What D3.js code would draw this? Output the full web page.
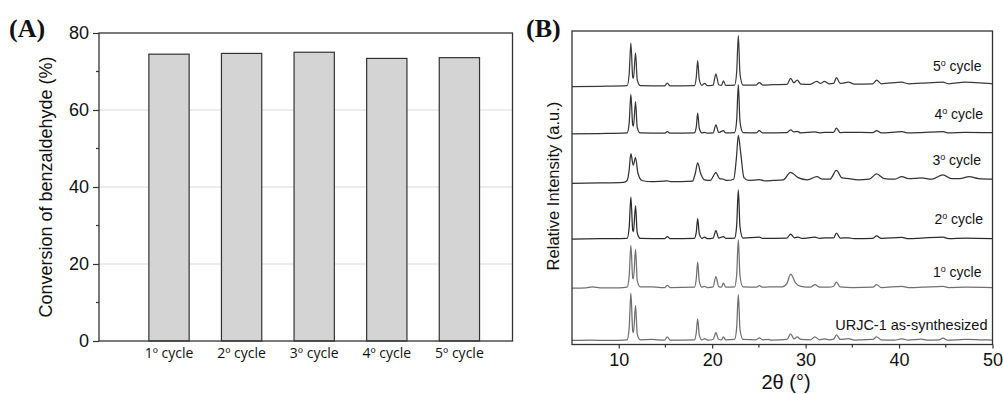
<!DOCTYPE html>
<html>
<head>
<meta charset="utf-8">
<script src="https://cdn.jsdelivr.net/npm/d3@7"></script>
<style>
  body { margin: 0; background: #fff; }
  svg { display: block; }
  text { font-family: "Liberation Sans", Arial, sans-serif; fill: #111; }
</style>
</head>
<body>
<svg id="chart" width="1003" height="394"></svg>
<script>
// panel A: conversion per cycle
var cycles = ["1º cycle", "2º cycle", "3º cycle", "4º cycle", "5º cycle"];
var conversion = [74.5, 74.7, 75.0, 73.4, 73.6];
var convTicks = [0, 20, 40, 60, 80];

// panel B: XRD patterns, [2theta, intensity a.u.]
var patternNames = ["URJC-1 as-synthesized", "1", "2", "3", "4", "5"];
var patternOffsets = [13, 180, 337, 518, 673, 824];
var thetaTicks = [10, 20, 30, 40, 50];

var asSynth = [[5,0],[7,1],[9,0],[10.9,2],[11.12,40],[11.3,151],[11.5,30],[11.58,25],[11.8,112],[11.98,20],[12.3,2],[13.5,3],[14.9,1],[15.2,11],[15.5,1],[18.1,2],[18.3,25],[18.45,69],[18.62,18],[18.9,2],[19.2,6],[19.5,1],[20.1,3],[20.4,25],[20.7,3],[21.0,2],[21.2,11],[21.45,2],[22.4,3],[22.62,40],[22.8,146],[22.98,35],[23.3,3],[24.7,2],[25.05,8],[25.4,2],[26,3],[26.4,1],[28.0,3],[28.4,21],[28.75,5],[29.1,11],[29.5,3],[30.5,2],[31,11],[31.5,2],[32,5],[32.5,2],[33.0,4],[33.3,18],[33.7,3],[34.6,6],[35.2,1],[36,2],[37.2,3],[37.6,11],[38.1,2],[39.5,1],[40.3,5],[41,1],[42.4,4],[43,1],[44.3,2],[44.7,7],[45.2,1],[47.1,3],[48.7,2],[50,1]];
var cycle1 = [[5,0],[6.5,1],[7.2,4],[8,1],[10,1],[10.9,3],[11.12,40],[11.3,137],[11.5,32],[11.58,30],[11.8,124],[11.98,25],[12.3,4],[13.5,4],[14.5,2],[14.95,2],[15.2,9],[15.5,2],[18.1,3],[18.3,30],[18.45,83],[18.62,22],[18.9,3],[19.2,6],[19.5,2],[20.1,4],[20.4,37],[20.7,5],[21.0,3],[21.2,16],[21.45,3],[22.4,4],[22.62,42],[22.8,155],[22.98,38],[23.3,4],[24.7,3],[25.05,8],[25.4,3],[26,4],[27.5,4],[28.0,15],[28.4,45],[28.9,18],[29.5,6],[30.5,3],[31,11],[31.5,3],[32.5,3],[33.0,6],[33.3,19],[33.7,4],[35,2],[37.2,3],[37.6,11],[38.1,2],[40.3,6],[41,2],[42.4,3],[44.7,6],[45.3,2],[47.1,3],[50,2]];
var cycle2 = [[5,0],[8,1],[10.9,2],[11.12,38],[11.3,134],[11.5,28],[11.58,24],[11.8,107],[11.98,20],[12.3,2],[14.9,1],[15.2,8],[15.5,1],[18.1,2],[18.3,22],[18.45,65],[18.62,17],[18.9,2],[19.2,6],[19.5,1],[20.1,3],[20.4,27],[20.7,3],[21.2,8],[21.45,2],[22.4,3],[22.62,42],[22.8,157],[22.98,38],[23.3,3],[25.05,6],[25.4,2],[28.0,3],[28.4,16],[28.8,4],[29.2,6],[29.6,2],[31,6],[31.5,2],[32,4],[33.0,4],[33.3,19],[33.7,3],[34.6,4],[35.2,1],[37.2,2],[37.6,10],[38.1,2],[40.3,5],[41,1],[42.4,3],[44.7,6],[45.3,1],[47.1,3],[50,1]];
var cycle3 = [[5,-3],[8,-2],[10.5,0],[10.9,6],[11.1,35],[11.3,92],[11.55,55],[11.8,79],[12.05,30],[12.5,6],[13.5,2],[15.2,5],[15.6,2],[17.9,4],[18.2,30],[18.45,62],[18.75,30],[19.2,8],[19.8,6],[20.4,31],[20.8,12],[21.2,10],[21.6,6],[22.3,10],[22.6,80],[22.8,150],[23.05,95],[23.4,15],[23.9,6],[25.05,9],[25.6,5],[26.5,6],[27.6,8],[28.4,32],[29.2,15],[30.2,8],[31.2,18],[31.8,10],[32.6,10],[33.3,38],[33.9,14],[34.6,12],[35.6,8],[36.8,10],[37.6,27],[38.4,12],[39.5,10],[40.3,18],[41,12],[42.4,14],[43.5,10],[44.7,24],[45.6,12],[46.5,12],[47.5,18],[48.5,12],[50,10]];
var cycle4 = [[5,0],[8,1],[10.9,3],[11.12,35],[11.3,126],[11.5,28],[11.58,25],[11.8,103],[11.98,20],[12.3,3],[14.9,2],[15.2,7],[15.5,2],[18.1,3],[18.3,22],[18.45,66],[18.62,18],[18.9,3],[19.2,5],[19.5,2],[20.1,3],[20.4,29],[20.7,4],[21.2,10],[21.45,3],[22.4,4],[22.62,42],[22.8,157],[22.98,38],[23.3,4],[24.7,3],[25.05,10],[25.4,3],[28.0,4],[28.4,13],[28.75,6],[29.1,8],[29.5,3],[31,6],[31.5,3],[32,5],[33.0,5],[33.3,18],[33.7,4],[34.6,5],[37.2,4],[37.6,10],[38.1,3],[40.3,7],[41,3],[42.4,4],[44.7,7],[45.3,3],[47.1,5],[50,4]];
var cycle5 = [[5,0],[8,1],[10.9,3],[11.12,40],[11.3,139],[11.5,30],[11.58,27],[11.8,108],[11.98,22],[12.3,3],[14.9,2],[15.2,11],[15.5,2],[18.1,3],[18.3,30],[18.45,83],[18.62,22],[18.9,4],[19.2,10],[19.5,3],[20.1,5],[20.4,41],[20.7,6],[21.0,4],[21.2,18],[21.45,4],[22.4,5],[22.62,45],[22.8,163],[22.98,40],[23.3,5],[24.7,5],[25.05,13],[25.4,5],[26.5,6],[28.0,7],[28.4,26],[28.75,12],[29.1,21],[29.5,8],[30.5,7],[31.2,17],[31.6,10],[32,17],[32.5,9],[33.0,10],[33.3,29],[33.7,10],[34.6,14],[35.2,8],[37.2,9],[37.6,21],[38.1,9],[40.3,14],[41,9],[42.4,11],[44.7,14],[45.3,9],[47.1,14],[48.7,12],[50,9]];
var patterns = [asSynth, cycle1, cycle2, cycle3, cycle4, cycle5];

var AXIS_COLOR = "#333";
var svg = d3.select("#chart");

// ---------- panel A ----------
var A_LEFT = 99, A_RIGHT = 512.5, A_TOP = 33, A_BOTTOM = 341;

var xA = d3.scaleBand()
  .domain(cycles)
  .range([132.7, 495.7])
  .paddingInner(0.445)
  .paddingOuter(0.2225);

var yA = d3.scaleLinear().domain([0, 80]).range([A_BOTTOM, A_TOP]);

var gA = svg.append("g");

// grid lines
gA.selectAll("line.grid")
  .data(convTicks.filter(function (d) { return d > 0 && d < 80; }))
  .enter().append("line")
  .attr("x1", A_LEFT).attr("x2", A_RIGHT)
  .attr("y1", function (d) { return yA(d); })
  .attr("y2", function (d) { return yA(d); })
  .style("stroke", "#d9d9d9")
  .style("stroke-width", 1);

gA.selectAll("rect.bar")
  .data(conversion)
  .enter().append("rect")
  .attr("x", function (d, i) { return xA(cycles[i]); })
  .attr("y", function (d) { return yA(d); })
  .attr("width", xA.bandwidth())
  .attr("height", function (d) { return A_BOTTOM - yA(d); })
  .style("fill", "#d4d4d4")
  .style("stroke", AXIS_COLOR)
  .style("stroke-width", 1.2);

// frame
gA.append("rect")
  .attr("x", A_LEFT).attr("y", A_TOP)
  .attr("width", A_RIGHT - A_LEFT).attr("height", A_BOTTOM - A_TOP)
  .style("fill", "none")
  .style("stroke", AXIS_COLOR)
  .style("stroke-width", 1.3);

var yAxisA = d3.axisLeft(yA).tickValues(convTicks).tickSize(6).tickPadding(4).tickSizeOuter(0);
var yAxisG = gA.append("g").attr("transform", "translate(" + A_LEFT + ",0)").call(yAxisA);
yAxisG.select(".domain").remove();
yAxisG.selectAll("line").style("stroke", AXIS_COLOR).style("stroke-width", 1.2);
yAxisG.selectAll("text").style("font-size", "18px").style("font-family", "'Liberation Sans', Arial").attr("fill", "#111");

// minor ticks at 10, 30, 50, 70
gA.append("g").selectAll("line")
  .data([10, 30, 50, 70])
  .enter().append("line")
  .attr("x1", A_LEFT - 3).attr("x2", A_LEFT)
  .attr("y1", function (d) { return yA(d); })
  .attr("y2", function (d) { return yA(d); })
  .style("stroke", AXIS_COLOR)
  .style("stroke-width", 1.2);

gA.selectAll("text.cat")
  .data(cycles)
  .enter().append("text")
  .attr("x", function (d) { return xA(d) + xA.bandwidth() / 2; })
  .attr("y", 357.5)
  .attr("text-anchor", "middle")
  .style("font-family", "'Open Sans', sans-serif")
  .style("font-size", "14px")
  .text(function (d) { return d; });

gA.append("text")
  .attr("transform", "translate(52,187) rotate(-90)")
  .attr("text-anchor", "middle")
  .style("font-size", "18px")
  .text("Conversion of benzaldehyde (%)");

gA.append("text")
  .attr("x", 9).attr("y", 37)
  .style("font-family", "'Liberation Serif', 'Times New Roman', serif")
  .style("font-weight", "bold")
  .style("font-size", "26px")
  .text("(A)");

// ---------- panel B ----------
var B_LEFT = 572, B_RIGHT = 992.5, B_TOP = 31, B_BOTTOM = 344.5;

var xB = d3.scaleLinear().domain([5, 50]).range([B_LEFT, B_RIGHT]);
var yB = d3.scaleLinear().domain([0, 1000]).range([B_BOTTOM, B_BOTTOM - 313]);

var gB = svg.append("g");

gB.append("defs").append("clipPath").attr("id", "clipB")
  .append("rect")
  .attr("x", B_LEFT).attr("y", B_TOP)
  .attr("width", B_RIGHT - B_LEFT).attr("height", B_BOTTOM - B_TOP);

var line = d3.line()
  .x(function (d) { return xB(d[0]); })
  .y(function (d) { return yB(d[1]); })
  .curve(d3.curveMonotoneX);

var traceColors = ["#6e6e6e", "#707070", "#2b2b2b", "#333", "#333", "#3a3a3a"];

gB.append("g").attr("clip-path", "url(#clipB)")
  .selectAll("path.trace")
  .data(patterns)
  .enter().append("path")
  .attr("d", function (pts, i) {
    var off = patternOffsets[i];
    return line(pts.map(function (p) { return [p[0], p[1] + off]; }));
  })
  .style("fill", "none")
  .style("stroke", function (d, i) { return traceColors[i]; })
  .style("stroke-width", 1.25)
  .style("stroke-linejoin", "round");

gB.append("rect")
  .attr("x", B_LEFT).attr("y", B_TOP)
  .attr("width", B_RIGHT - B_LEFT).attr("height", B_BOTTOM - B_TOP)
  .style("fill", "none")
  .style("stroke", AXIS_COLOR)
  .style("stroke-width", 1.3);

var xAxisB = d3.axisBottom(xB).tickValues(thetaTicks).tickSize(4).tickPadding(5).tickSizeOuter(0);
var xAxisG = gB.append("g").attr("transform", "translate(0," + B_BOTTOM + ")").call(xAxisB);
xAxisG.select(".domain").remove();
xAxisG.selectAll("line").style("stroke", AXIS_COLOR).style("stroke-width", 1.2);
xAxisG.selectAll("text").style("font-size", "18px").style("font-family", "'Liberation Sans', Arial").attr("fill", "#111");

gB.append("g").selectAll("line")
  .data([15, 25, 35, 45])
  .enter().append("line")
  .attr("x1", function (d) { return xB(d); })
  .attr("x2", function (d) { return xB(d); })
  .attr("y1", B_BOTTOM).attr("y2", B_BOTTOM + 3)
  .style("stroke", AXIS_COLOR)
  .style("stroke-width", 1.2);

// trace labels
var labelY = [330, 276.5, 223.5, 165, 118.5, 70.5];
var labelRight = [987.5, 981.5, 983, 981, 983, 981.5];
patternNames.forEach(function (name, i) {
  var t = gB.append("text")
    .attr("x", labelRight[i]).attr("y", labelY[i])
    .attr("text-anchor", "end")
    .style("font-size", i === 0 ? "14.5px" : "14px");
  if (i === 0) {
    t.text(name);
  } else {
    t.append("tspan").text(name);
    t.append("tspan").attr("dy", -5).style("font-size", "9px").text("o");
    t.append("tspan").attr("dy", 5).text(" cycle");
  }
});

gB.append("text")
  .attr("transform", "translate(559,186) rotate(-90)")
  .attr("text-anchor", "middle")
  .style("font-size", "16.5px")
  .text("Relative Intensity (a.u.)");

gB.append("text")
  .attr("x", 786).attr("y", 389)
  .attr("text-anchor", "middle")
  .style("font-size", "20px")
  .text("2θ (°)");

gB.append("text")
  .attr("x", 526).attr("y", 37)
  .style("font-family", "'Liberation Serif', 'Times New Roman', serif")
  .style("font-weight", "bold")
  .style("font-size", "26px")
  .text("(B)");
</script>
</body>
</html>
